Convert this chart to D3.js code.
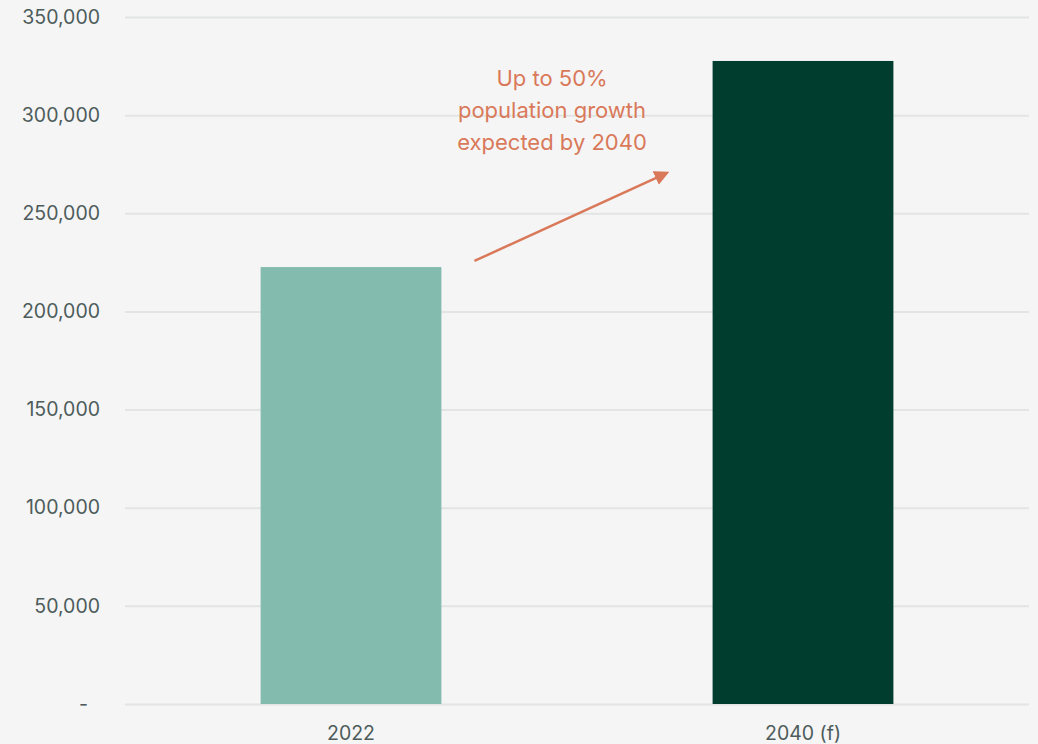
<!DOCTYPE html>
<html>
<head>
<meta charset="utf-8">
<script src="https://cdn.jsdelivr.net/npm/d3@7"></script>
<style>
  html, body { margin: 0; padding: 0; background: #f5f5f5; }
  svg text { font-family: "Inter", "Open Sans", sans-serif; }
</style>
</head>
<body>
<div id="graphic"></div>
<script>
// chart data
const categories = ["2022", "2040 (f)"];
const population = [222600, 327600];
const barColors = ["#83bcae", "#003d2e"];
const yTicks = [0, 50000, 100000, 150000, 200000, 250000, 300000, 350000];
const noteLines = ["Up to 50%", "population growth", "expected by 2040"];
const arrowValues = [225700, 270500]; // y of arrow tail and head

// graphic dimensions
const graphicWidth = 1038;
const graphicHeight = 744;
const margin = {top: 17, right: 9, bottom: 40, left: 125};
const plotWidth = graphicWidth - margin.left - margin.right;
const plotHeight = graphicHeight - margin.top - margin.bottom;

const svg = d3.select("#graphic")
    .append("svg")
    .attr("width", graphicWidth)
    .attr("height", graphicHeight);

svg.append("rect")
    .attr("width", graphicWidth)
    .attr("height", graphicHeight)
    .attr("fill", "#f5f5f5");

const g = svg.append("g")
    .attr("transform", "translate(" + margin.left + "," + margin.top + ")");

const x = d3.scaleBand()
    .domain(categories)
    .range([0, plotWidth]);

const y = d3.scaleLinear()
    .domain([0, 350000])
    .range([plotHeight, 0]);

// y axis with gridlines
const yAxis = g.append("g")
    .call(d3.axisLeft(y)
        .tickValues(yTicks)
        .tickSize(-plotWidth)
        .tickPadding(25)
        .tickFormat(d => d === 0 ? "-" : d3.format(",")(d)));
yAxis.select(".domain").remove();
yAxis.selectAll(".tick line")
    .attr("stroke", "#e2e5e4")
    .attr("stroke-width", 2);
yAxis.selectAll(".tick text")
    .attr("fill", "#4d5c5b")
    .attr("font-size", 19.5)
    .attr("dx", d => d === 0 ? -12 : 0);

// x axis labels
const xAxis = g.append("g")
    .attr("transform", "translate(0," + plotHeight + ")")
    .call(d3.axisBottom(x).tickSize(0).tickPadding(22));
xAxis.select(".domain").remove();
xAxis.selectAll(".tick text")
    .attr("fill", "#4d5c5b")
    .attr("font-size", 19.5);

// bars
const barWidth = x.bandwidth() * 0.4;
g.selectAll(".bar")
    .data(categories)
    .join("rect")
    .attr("class", "bar")
    .attr("x", d => x(d) + (x.bandwidth() - barWidth) / 2)
    .attr("width", barWidth)
    .attr("y", (d, i) => y(population[i]))
    .attr("height", (d, i) => plotHeight - y(population[i]))
    .attr("fill", (d, i) => barColors[i]);

// annotation arrow
const noteColor = "#d9795a";
svg.append("defs").append("marker")
    .attr("id", "arrowhead")
    .attr("viewBox", "0 0 10 10")
    .attr("refX", 8).attr("refY", 5)
    .attr("markerWidth", 6).attr("markerHeight", 6)
    .attr("orient", "auto")
    .append("path")
    .attr("d", "M0,0L10,5L0,10z")
    .attr("fill", noteColor);

const arrowX0 = x(categories[0]) + (x.bandwidth() + barWidth) / 2 + 33;
const arrowX1 = x(categories[1]) + (x.bandwidth() - barWidth) / 2 - 46;
g.append("line")
    .attr("x1", arrowX0)
    .attr("y1", y(arrowValues[0]))
    .attr("x2", arrowX1)
    .attr("y2", y(arrowValues[1]))
    .attr("stroke", noteColor)
    .attr("stroke-width", 2.5)
    .attr("marker-end", "url(#arrowhead)");

const noteX = (x(categories[0]) + x.bandwidth() + x(categories[1])) / 2 - 25;
g.append("text")
    .attr("text-anchor", "middle")
    .attr("fill", noteColor)
    .attr("font-size", 22)
    .selectAll("tspan")
    .data(noteLines)
    .join("tspan")
    .attr("x", noteX)
    .attr("y", (d, i) => 69 + i * 32)
    .text(d => d);
</script>
</body>
</html>
